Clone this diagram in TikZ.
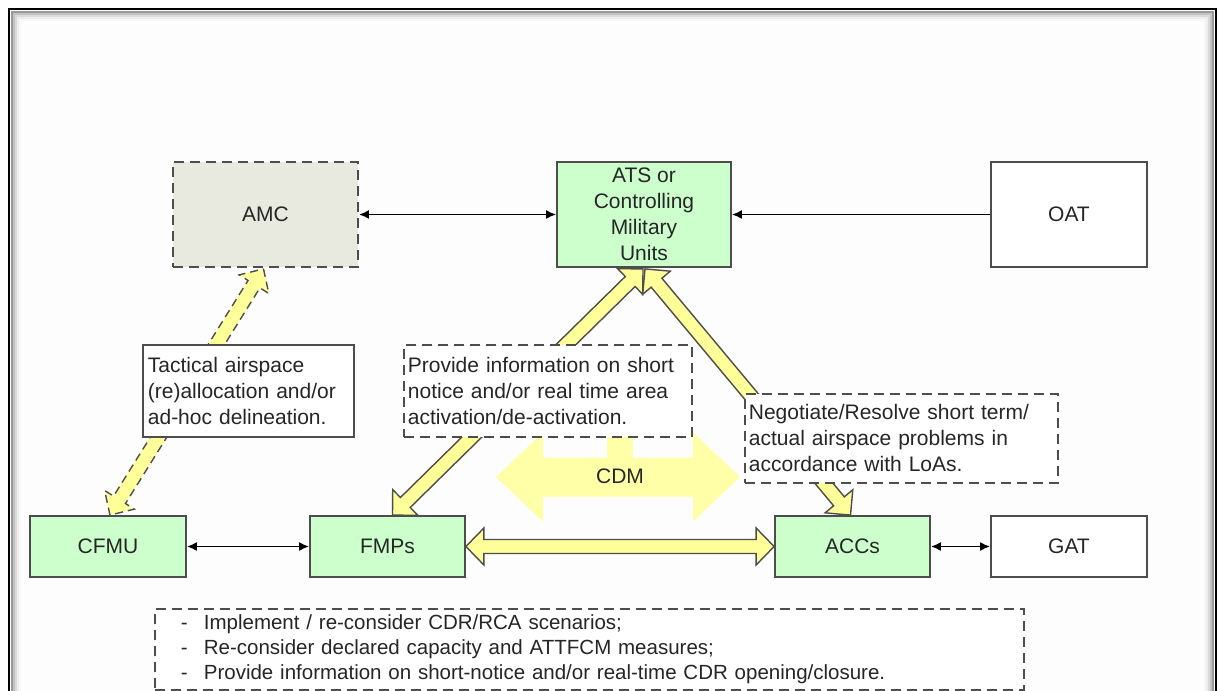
\documentclass[tikz,border=0pt]{standalone}
\usepackage{fontspec}
\setmainfont{Liberation Sans}
\usetikzlibrary{arrows.meta,calc}

\definecolor{nodegreen}{HTML}{CCFFCC}
\definecolor{amcgray}{HTML}{E8E9DF}
\definecolor{edgegray}{HTML}{4D4D4D}
\definecolor{arrowyellow}{HTML}{FFFF99}
\definecolor{cdmyellow}{HTML}{FFFFA8}
\definecolor{pagebg}{HTML}{FDFDFD}

% double block arrow: style, A, B, head length, head half-width, shaft half-width
\newcommand{\dblblock}[6]{%
  \path[#1] (#2) -- ($(#2)!#4!(#3)!#5!90:(#3)$) -- ($(#2)!#4!(#3)!#6!90:(#3)$)
   -- ($(#3)!#4!(#2)!#6!-90:(#2)$) -- ($(#3)!#4!(#2)!#5!-90:(#2)$) -- (#3)
   -- ($(#3)!#4!(#2)!#5!90:(#2)$) -- ($(#3)!#4!(#2)!#6!90:(#2)$)
   -- ($(#2)!#4!(#3)!#6!-90:(#3)$) -- ($(#2)!#4!(#3)!#5!-90:(#3)$) -- cycle;}

\tikzset{
  txt/.style={font=\fontsize{21}{26}\selectfont, text=black!85},
  unitbox/.style={txt, draw=edgegray, line width=1.8pt, align=center, inner sep=0pt},
  greenbox/.style={unitbox, fill=nodegreen},
  whitebox/.style={unitbox, fill=white},
  notebox/.style={txt, draw=edgegray, line width=1.8pt, fill=white, align=left,
                  anchor=north west, inner ysep=0pt},
  dashnote/.style={notebox, dash pattern=on 10pt off 6pt},
  conn/.style={line width=1.7pt, black, {Latex[length=10pt,width=9pt]}-{Latex[length=10pt,width=9pt]}},
  conn1/.style={line width=1.7pt, black, -{Latex[length=10pt,width=9pt]}},
  yarrow/.style={fill=arrowyellow, draw=edgegray, line width=1.4pt, line join=miter},
  yarrowdash/.style={yarrow, dash pattern=on 8pt off 5pt},
  cdmarrow/.style={fill=cdmyellow, draw=none},
}

\begin{document}
\begin{tikzpicture}[x=1pt,y=-1pt]
\useasboundingbox (0,0) rectangle (1219,691);
\fill[white] (0,0) rectangle (1219,691);
\fill[pagebg] (9,9) rectangle (1216,691);
% frame with inner shadow
\foreach \d/\g in {11/3,9/7,7/14,5/24,3/40}{
  \draw[black!\g!white, line width=2pt] (9+\d,691) -- (9+\d,9+\d) -- (1216-\d,9+\d) -- (1216-\d,691);
}
\draw[black, line width=2pt] (9,691) -- (9,9) -- (1216,9) -- (1216,691);

% main nodes
\node[unitbox, fill=amcgray, dash pattern=on 10pt off 6pt, minimum width=185pt, minimum height=105pt] (amc) at (265.5,214.5) {AMC};
\node[greenbox, minimum width=174pt, minimum height=105pt] (ats) at (644,214.5) {ATS or\\Controlling\\Military\\Units};
\node[whitebox, minimum width=156pt, minimum height=105pt] (oat) at (1069,214.5) {OAT};
\node[greenbox, minimum width=156pt, minimum height=61pt] (cfmu) at (108,546.5) {CFMU};
\node[greenbox, minimum width=155pt, minimum height=61pt] (fmps) at (387.5,546.5) {FMPs};
\node[greenbox, minimum width=155pt, minimum height=61pt] (accs) at (852.5,546.5) {ACCs};
\node[whitebox, minimum width=156pt, minimum height=61pt] (gat) at (1069,546.5) {GAT};

% black connectors
\draw[conn] (amc.east) -- (ats.west);
\draw[conn1] (oat.west) -- (ats.east);
\draw[conn] (cfmu.east) -- (fmps.west);
\draw[conn] (accs.east) -- (gat.west);

% yellow block arrows
\coordinate (amcS) at ($(amc.south)+(-2,1)$);
\coordinate (cfmuN) at ($(cfmu.north)+(2,0)$);
\coordinate (atsL) at ($(ats.south)+(-1,1)$);
\coordinate (atsR) at ($(ats.south)+(1,1)$);
\coordinate (fmpsN) at ($(fmps.north)+(5,0)$);
\coordinate (accsN) at ($(accs.north)+(-2,0)$);
\coordinate (cdmL) at (496,477);
\coordinate (cdmR) at (740,477);

\fill[cdmyellow] (607,430) rectangle (633,462);
\dblblock{cdmarrow}{cdmL}{cdmR}{47pt}{44.5pt}{19.5pt}
\node[txt] (cdm) at (620,476) {CDM};

\dblblock{yarrowdash}{amcS}{cfmuN}{18pt}{17.5pt}{7pt}
\dblblock{yarrow}{atsL}{fmpsN}{18pt}{18pt}{7pt}
\dblblock{yarrow}{atsR}{accsN}{18pt}{18pt}{7pt}
\dblblock{yarrow}{fmps.east}{accs.west}{18pt}{18.5pt}{7pt}

% text boxes
\node[notebox, inner xsep=5pt, text width=201pt, minimum height=92pt] (tact) at (142,344)
  {Tactical airspace\\(re)allocation and/or\\ad-hoc delineation.};
\node[dashnote, inner xsep=4pt, text width=280pt, minimum height=92pt] (prov) at (403,344)
  {Provide information on short\\notice and/or real time area\\activation/de-activation.};
\node[dashnote, inner xsep=4pt, text width=305pt, minimum height=89pt] (nego) at (744,393)
  {Negotiate/Resolve short term/\\actual airspace problems in\\accordance with LoAs.};
\node[dashnote, inner xsep=26pt, text width=817pt, minimum height=81pt,
      font=\fontsize{20.5}{25}\selectfont] (cdr) at (154,608)
  {\makebox[23pt][l]{-}Implement / re-consider CDR/RCA scenarios;\\
   \makebox[23pt][l]{-}Re-consider declared capacity and ATTFCM measures;\\
   \makebox[23pt][l]{-}Provide information on short-notice and/or real-time CDR opening/closure.};
\end{tikzpicture}
\end{document}
